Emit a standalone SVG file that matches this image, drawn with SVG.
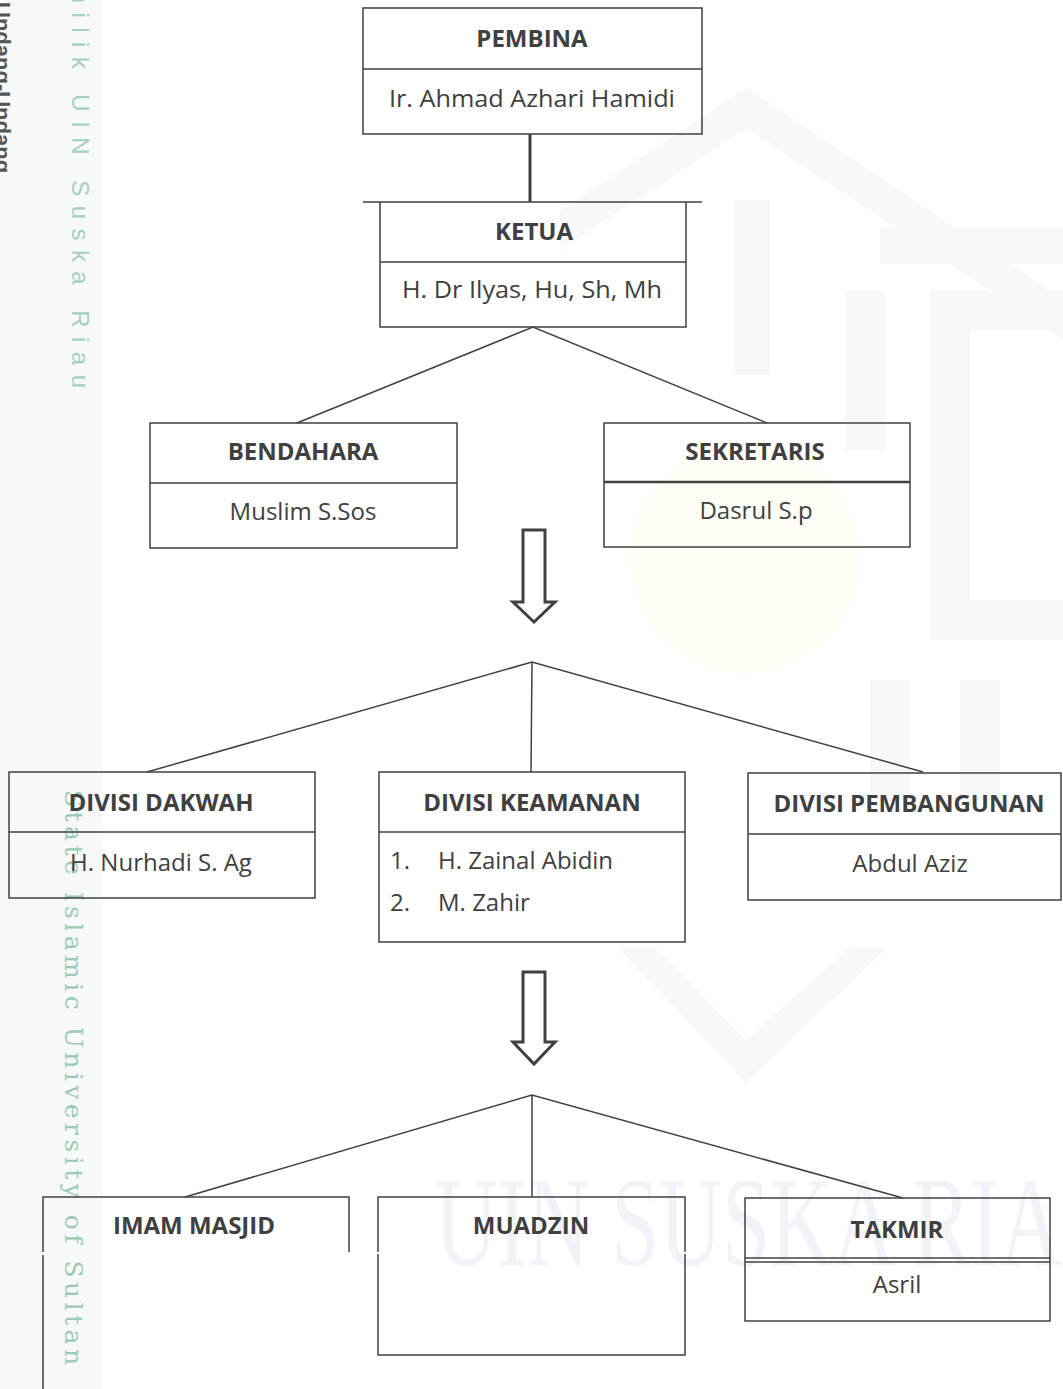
<svg xmlns="http://www.w3.org/2000/svg" width="1063" height="1389" viewBox="0 0 1063 1389">
<style>
.box{fill:none;stroke:#404040;stroke-width:1.5}
.ln{fill:none;stroke:#404040;stroke-width:1.5}
.arr{fill:none;stroke:#404040;stroke-width:3;stroke-linejoin:miter}
.t{font-family:"Open Sans","Liberation Sans",sans-serif;font-size:24px;fill:#404040;text-anchor:middle}
.l{font-family:"Open Sans","Liberation Sans",sans-serif;font-size:24px;fill:#404040;text-anchor:start}
.b{font-weight:bold}
.wm{fill:#f8f8f8}
.vg{font-family:"Liberation Sans",sans-serif;font-size:24px;fill:#a6d0bd}
.vs{font-family:"DejaVu Serif",serif;font-size:25px;fill:#9ccab4}
</style>
<rect x="0" y="0" width="1063" height="1389" fill="#ffffff"/>
<g id="watermark">
  <rect x="0" y="0" width="103" height="1389" fill="#f7f8f8"/>
  <polygon class="wm" points="747,88 1063,300 1063,340 747,128 560,250 560,210"/>
  <rect class="wm" x="880" y="228" width="183" height="36"/>
  <rect class="wm" x="733" y="200" width="37" height="175"/>
  <rect class="wm" x="845" y="290" width="40" height="160"/>
  <polygon class="wm" points="930,290 1063,290 1063,330 970,330 970,600 1063,600 1063,640 930,640"/>
  <polygon class="wm" points="617,947 746,1083 888,947 850,947 746,1040 655,947"/>
  <rect class="wm" x="870" y="680" width="40" height="120"/>
  <rect class="wm" x="960" y="680" width="40" height="120"/>
  <circle cx="745" cy="558" r="115" fill="#fefef6"/>
  <text x="435" y="1265" font-family="Liberation Serif,serif" font-size="128" fill="#f1f3f8" textLength="690" lengthAdjust="spacingAndGlyphs">UIN SUSKA RIAU</text>
  <text class="vg" transform="translate(72,-17) rotate(90)" textLength="405" lengthAdjust="spacing">milik UIN Suska Riau</text>
  <text transform="translate(-5,2) rotate(90)" font-family="Liberation Sans,sans-serif" font-size="22" font-weight="bold" fill="#555555">Undang-Undang</text>
  <text class="vs" transform="translate(65,790) rotate(90)" textLength="575" lengthAdjust="spacing">State Islamic University of Sultan</text>
</g>
<g id="connectors">
  <line x1="530" y1="134" x2="530" y2="202" stroke="#404040" stroke-width="3"/>
  <line class="ln" x1="363" y1="202" x2="702" y2="202"/>
  <polyline class="ln" points="297,423 533,327 767,423"/>
  <path class="arr" d="M523,530 H545 V602 H555 L534,622 L513,602 H523 Z"/>
  <polyline class="ln" points="147,772 532,662 923,772"/>
  <line class="ln" x1="532" y1="662" x2="531" y2="772"/>
  <path class="arr" d="M523,972 H545 V1042 H555 L534,1064 L513,1042 H523 Z"/>
  <polyline class="ln" points="185,1197 532,1095 903,1198"/>
  <line class="ln" x1="532" y1="1095" x2="532" y2="1197"/>
</g>
<g id="pembina">
  <rect class="box" x="363" y="8" width="339" height="126"/>
  <line class="ln" x1="363" y1="69" x2="702" y2="69"/>
  <text class="t b" x="532" y="47">PEMBINA</text>
  <text class="t" x="532" y="107" textLength="286" lengthAdjust="spacingAndGlyphs">Ir. Ahmad Azhari Hamidi</text>
</g>
<g id="ketua">
  <path class="box" d="M380,202 V327 H686 V202"/>
  <line class="ln" x1="380" y1="262" x2="686" y2="262"/>
  <text class="t b" x="534" y="240">KETUA</text>
  <text class="t" x="532" y="298" textLength="260" lengthAdjust="spacingAndGlyphs">H. Dr Ilyas, Hu, Sh, Mh</text>
</g>
<g id="bendahara">
  <rect class="box" x="150" y="423" width="307" height="125"/>
  <line class="ln" x1="150" y1="483" x2="457" y2="483"/>
  <text class="t b" x="303" y="460">BENDAHARA</text>
  <text class="t" x="303" y="520">Muslim S.Sos</text>
</g>
<g id="sekretaris">
  <rect class="box" x="604" y="423" width="306" height="124"/>
  <line x1="604" y1="482" x2="910" y2="482" stroke="#404040" stroke-width="2.5"/>
  <text class="t b" x="755" y="460">SEKRETARIS</text>
  <text class="t" x="756" y="519">Dasrul S.p</text>
</g>
<g id="divisi-dakwah">
  <rect class="box" x="9" y="772" width="306" height="126"/>
  <line class="ln" x1="9" y1="832" x2="315" y2="832"/>
  <text class="t b" x="161" y="811">DIVISI DAKWAH</text>
  <text class="t" x="161" y="871">H. Nurhadi S. Ag</text>
</g>
<g id="divisi-keamanan">
  <rect class="box" x="379" y="772" width="306" height="170"/>
  <line class="ln" x1="379" y1="832" x2="685" y2="832"/>
  <text class="t b" x="532" y="811">DIVISI KEAMANAN</text>
  <text class="l" x="390" y="869">1.</text>
  <text class="l" x="438" y="869">H. Zainal Abidin</text>
  <text class="l" x="390" y="911">2.</text>
  <text class="l" x="438" y="911">M. Zahir</text>
</g>
<g id="divisi-pembangunan">
  <rect class="box" x="748" y="773" width="313" height="127"/>
  <line class="ln" x1="748" y1="834" x2="1061" y2="834"/>
  <text class="t b" x="909" y="812">DIVISI PEMBANGUNAN</text>
  <text class="t" x="910" y="872">Abdul Aziz</text>
</g>
<g id="imam-masjid">
  <path class="ln" d="M43,1252 V1197 H349 V1252 M43,1255 V1389"/>
  <text class="t b" x="194" y="1234">IMAM MASJID</text>
</g>
<g id="muadzin">
  <path class="ln" d="M378,1252 V1197 H685 V1252 M378,1254 V1355 H685 V1254"/>
  <text class="t b" x="531" y="1234">MUADZIN</text>
</g>
<g id="takmir">
  <rect class="box" x="745" y="1198" width="305" height="123"/>
  <line class="ln" x1="745" y1="1258" x2="1050" y2="1258"/>
  <line class="ln" x1="745" y1="1262" x2="1050" y2="1262"/>
  <text class="t b" x="897" y="1238">TAKMIR</text>
  <text class="t" x="897" y="1293">Asril</text>
</g>
</svg>
